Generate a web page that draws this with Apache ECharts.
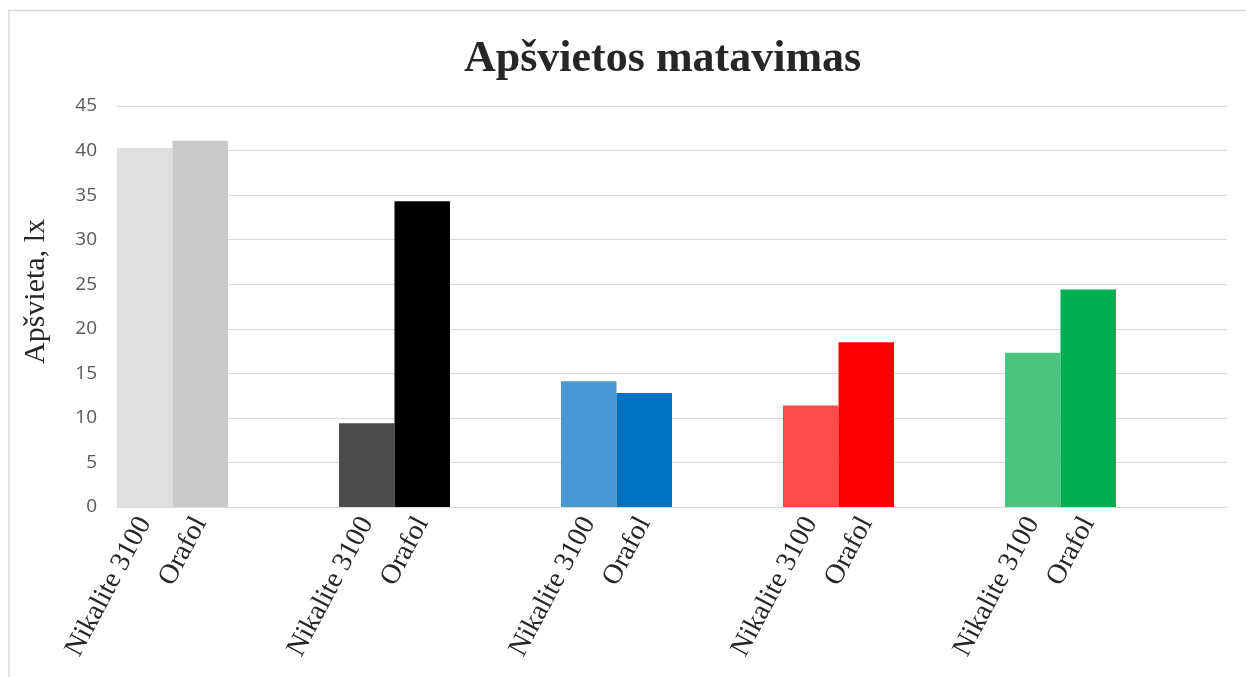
<!DOCTYPE html>
<html>
<head>
<meta charset="utf-8">
<script src="https://cdn.jsdelivr.net/npm/echarts@6/dist/echarts.min.js"></script>
<style>
  html, body { margin: 0; padding: 0; background: #fff; }
  #container { width: 1247px; height: 677px; }
</style>
</head>
<body>
<div id="container"></div>
<script>
// 5 grupės po 2 stulpelius, tarp grupių 2 tušti tarpai
var categories = [
  'Nikalite 3100', 'Orafol', '', '',
  'Nikalite 3100', 'Orafol', '', '',
  'Nikalite 3100', 'Orafol', '', '',
  'Nikalite 3100', 'Orafol', '', '',
  'Nikalite 3100', 'Orafol', '', ''
]
var values = [
  40.3, 41.1, null, null,
  9.4, 34.3, null, null,
  14.1, 12.8, null, null,
  11.4, 18.5, null, null,
  17.3, 24.4, null, null
]
var barColors = [
  '#dfdfdf', '#c9c9c9', null, null,
  '#4d4d4d', '#000000', null, null,
  '#4b99d4', '#0070c0', null, null,
  '#ff4b4b', '#ff0000', null, null,
  '#4cc481', '#00b050', null, null
]
var yTicks = { min: 0, max: 45, interval: 5 }

var chart = echarts.init(document.getElementById('container'))

var seriesData = []
for (var i = 0; i < values.length; i++) {
  seriesData.push({ value: values[i], itemStyle: { color: barColors[i] || '#fff' } })
}

chart.setOption({
  backgroundColor: '#ffffff',
  animation: false,
  title: {
    text: 'Apšvietos matavimas',
    left: 459,
    top: 33,
    textStyle: {
      fontFamily: 'Liberation Serif',
      fontWeight: 'bold',
      fontSize: 44,
      color: '#262626'
    }
  },
  graphic: [
    { type: 'line', shape: { x1: 8, y1: 10.5, x2: 1246, y2: 10.5 }, style: { stroke: '#d9d9d9', lineWidth: 1.5 } },
    { type: 'line', shape: { x1: 9, y1: 10, x2: 9, y2: 677 }, style: { stroke: '#d9d9d9', lineWidth: 1.5 } }
  ],
  grid: { left: 117, right: 20, top: 106, bottom: 170 },
  xAxis: {
    type: 'category',
    data: categories,
    axisLine: { lineStyle: { color: '#d9d9d9' } },
    axisTick: { show: false },
    axisLabel: {
      interval: 0,
      rotate: 62,
      margin: 12,
      fontFamily: 'Liberation Serif',
      fontSize: 28,
      color: '#262626'
    }
  },
  yAxis: {
    type: 'value',
    min: yTicks.min,
    max: yTicks.max,
    interval: yTicks.interval,
    name: 'Apšvieta, lx',
    nameLocation: 'middle',
    nameGap: 66,
    nameTextStyle: {
      fontFamily: 'Liberation Serif',
      fontSize: 30,
      color: '#262626',
      padding: [0, 0, 0, 30]
    },
    axisLine: { show: false },
    axisTick: { show: false },
    axisLabel: {
      margin: 20,
      fontFamily: 'Open Sans',
      fontSize: 19,
      color: '#595959'
    },
    splitLine: { lineStyle: { color: '#d9d9d9', width: 1 } }
  },
  series: [
    {
      type: 'bar',
      data: seriesData,
      barCategoryGap: '0%'
    }
  ]
})
</script>
</body>
</html>
